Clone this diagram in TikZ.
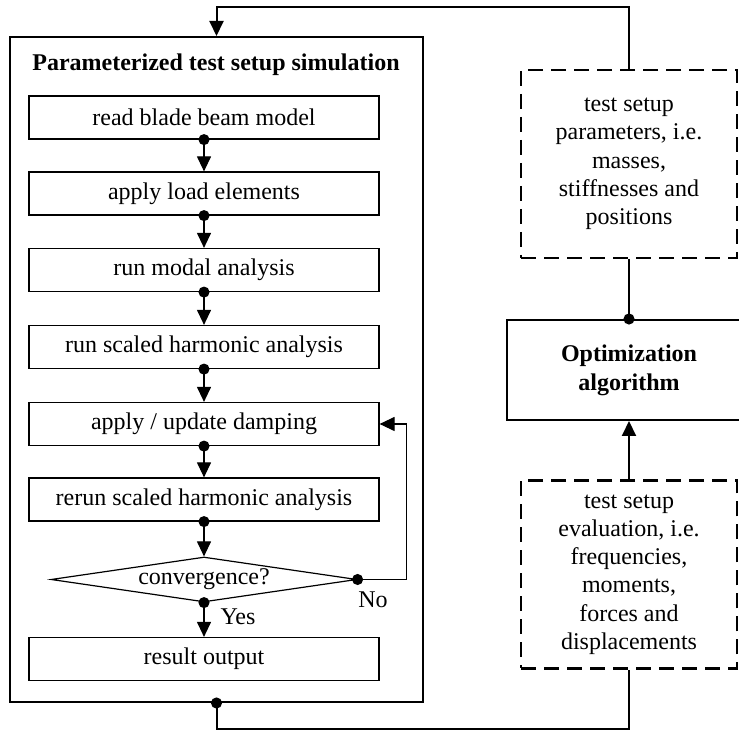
\documentclass[tikz,border=0pt,12pt]{standalone}
\usepackage{fontspec}
\setmainfont{Liberation Serif}
\usetikzlibrary{shapes.geometric,arrows.meta}

\begin{document}
\begin{tikzpicture}[x=0.5pt,y=-0.5pt,
	stepbox/.style={draw, line width=0.6pt, minimum width=175pt, minimum height=21.5pt, inner sep=0pt},
	dashbox/.style={draw, line width=1.1pt, dash pattern=on 7.5pt off 4pt, minimum width=108pt, minimum height=94pt, inner sep=0pt, align=center, font=\fontsize{12}{14.1}\selectfont},
	flow/.style={line width=0.6pt, shorten <=-2.75pt, {Circle[length=5.5pt]}-{Triangle[width=7pt,length=7.5pt]}},
	link/.style={line width=1pt}]
	\useasboundingbox (0,0) rectangle (739,731);
	% simulation block
	\node[draw, line width=1pt, minimum width=206.5pt, minimum height=332.5pt, inner sep=0pt] (sim) at (216.5,369.5) {};
	\node[font=\bfseries] (title) at (216,65) {Parameterized test setup simulation};
	\node[stepbox] (read) at (204,117.5) {read blade beam model};
	\node[stepbox] (load) at (204,193.5) {apply load elements};
	\node[stepbox] (modal) at (204,270) {run modal analysis};
	\node[stepbox] (harm) at (204,347) {run scaled harmonic analysis};
	\node[stepbox] (damp) at (204,424) {apply / update damping};
	\node[stepbox] (rerun) at (204,499.5) {rerun scaled harmonic analysis};
	\node[draw, shape=diamond, aspect=6.8, line width=0.6pt, minimum width=152.5pt, minimum height=22.5pt, inner sep=1pt] (conv) at (204,579.5) {convergence?};
	\node[stepbox] (out) at (204,659) {result output};
	\node (yes) at (238,617) {Yes};
	\node (no) at (373,600) {No};
	% optimization loop
	\node[dashbox] (par) at (629,164) {test setup\\parameters, i.e.\\masses,\\stiffnesses and\\positions};
	\node[draw, line width=1pt, minimum width=122pt, minimum height=50pt, align=center, font=\bfseries] (opt) at (629,370) {Optimization\\algorithm};
	\node[dashbox] (eval) at (629,574.5) {test setup\\evaluation, i.e.\\frequencies,\\moments,\\forces and\\displacements};
	% connectors
	\draw[flow] (read.south) -- (load.north);
	\draw[flow] (load.south) -- (modal.north);
	\draw[flow] (modal.south) -- (harm.north);
	\draw[flow] (harm.south) -- (damp.north);
	\draw[flow] (damp.south) -- (rerun.north);
	\draw[flow] (rerun.south) -- (conv.north);
	\draw[flow] (conv.south) -- (out.north);
	\draw[flow] (conv.east) -- ++(49,0) |- (damp.east);
	\draw[link, -{Triangle[width=7pt,length=7.5pt]}] (par.north) -- ++(0,-62) -| (sim.north);
	\draw[link, shorten >=-2.75pt, -{Circle[length=5.5pt]}] (par.south) -- (opt.north);
	\draw[link, -{Triangle[width=7pt,length=7.5pt]}] (eval.north) -- (opt.south);
	\draw[link, shorten <=-2.75pt, {Circle[length=5.5pt]}-] (sim.south) -- ++(0,26) -| (eval.south);
\end{tikzpicture}
\end{document}
